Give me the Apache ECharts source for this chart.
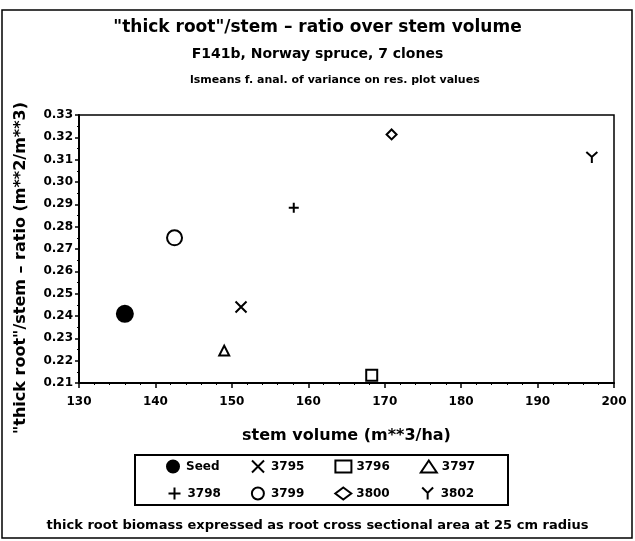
<!DOCTYPE html>
<html>
<head>
<meta charset="utf-8">
<script src="https://cdn.jsdelivr.net/npm/echarts@6/dist/echarts.min.js"></script>
<style>
  html, body { margin: 0; padding: 0; background: #fff; }
  #chart { width: 635px; height: 541px; }
</style>
</head>
<body>
<div id="chart"></div>
<script>
// data
var clones = ['Seed', '3795', '3796', '3797', '3798', '3799', '3800', '3802'];
var stemVolume = [136.0, 151.2, 168.3, 149.0, 158.1, 142.5, 170.9, 197.1];
var rootRatio = [0.241, 0.244, 0.2135, 0.2245, 0.2885, 0.275, 0.3213, 0.311];
var xTicks = [130, 200, 10];
var yTicks = [0.21, 0.33, 0.01];

// marker look for each clone
var markers = {
  'Seed': { symbol: 'circle', size: 16, fill: '#000' },
  '3795': { symbol: 'path://M0,0L10,10M10,0L0,10', size: 11, fill: 'none' },
  '3796': { symbol: 'rect', size: 11, fill: '#fff' },
  '3797': { symbol: 'triangle', size: 10, fill: '#fff' },
  '3798': { symbol: 'path://M5,0L5,10M0,5L10,5', size: 10, fill: 'none' },
  '3799': { symbol: 'circle', size: 15, fill: '#fff' },
  '3800': { symbol: 'diamond', size: 10, fill: '#fff' },
  '3802': { symbol: 'path://M0,0L5,5L10,0M5,5L5,11', size: 11, fill: 'none' }
};

var font = 'DejaVu Sans, Verdana, sans-serif';
function txt(size) {
  return { fontFamily: font, fontSize: size, fontWeight: 'bold', color: '#000' };
}

var chart = echarts.init(document.getElementById('chart'));

var series = clones.map(function (name, i) {
  var m = markers[name];
  return {
    name: name,
    type: 'scatter',
    symbol: m.symbol,
    symbolSize: m.size,
    itemStyle: { color: m.fill, borderColor: '#000', borderWidth: 2, opacity: 1 },
    data: [[stemVolume[i], rootRatio[i]]]
  };
});

// legend in two rows of four, like the original key box
function legendRow(items, top) {
  return {
    data: items,
    orient: 'horizontal',
    left: 166, top: top,
    padding: 0,
    itemGap: 30,
    itemWidth: 16, itemHeight: 12,
    textStyle: txt(12)
  };
}

var option = {
  backgroundColor: '#fff',
  animation: false,
  title: [
    { text: '"thick root"/stem \u2013 ratio over stem volume', left: 'center', top: 14, textStyle: txt(17) },
    { text: 'F141b, Norway spruce, 7 clones', left: 'center', top: 42, textStyle: txt(14) },
    { text: 'lsmeans f. anal. of variance on res. plot values', left: 185, top: 70, textStyle: txt(11) },
    { text: 'thick root biomass expressed as root cross sectional area at 25 cm radius', left: 'center', top: 514, textStyle: txt(13) }
  ],
  grid: {
    left: 79, right: 21, top: 115, bottom: 158,
    show: true, borderColor: '#000', borderWidth: 1.5
  },
  xAxis: {
    type: 'value',
    min: xTicks[0], max: xTicks[1], interval: xTicks[2],
    name: 'stem volume (m**3/ha)',
    nameLocation: 'middle',
    nameGap: 45,
    nameTextStyle: txt(16),
    axisLine: { lineStyle: { color: '#000', width: 2 } },
    axisTick: { show: true, length: 5, lineStyle: { color: '#000', width: 1.5 } },
    minorTick: { show: true, splitNumber: 5, length: 2, lineStyle: { color: '#000' } },
    splitLine: { show: false },
    axisLabel: Object.assign({ margin: 13 }, txt(12))
  },
  yAxis: {
    type: 'value',
    min: yTicks[0], max: yTicks[1], interval: yTicks[2],
    name: '"thick root"/stem \u2013 ratio (m**2/m**3)',
    nameLocation: 'middle',
    nameGap: 50,
    nameTextStyle: Object.assign({ padding: [0, 38, 0, 0] }, txt(16)),
    axisLine: { lineStyle: { color: '#000', width: 2 } },
    axisTick: { show: true, length: 4, lineStyle: { color: '#000', width: 1.5 } },
    minorTick: { show: true, splitNumber: 2, length: 2, lineStyle: { color: '#000' } },
    splitLine: { show: false },
    axisLabel: Object.assign({
      margin: 6,
      formatter: function (v) { return v.toFixed(2); }
    }, txt(12))
  },
  legend: [
    legendRow(clones.slice(0, 4), 458),
    legendRow(clones.slice(4), 485)
  ],
  graphic: [{
    type: 'rect',
    shape: { x: 2, y: 10, width: 630, height: 528 },
    style: { fill: 'none', stroke: '#000', lineWidth: 1.5 },
    silent: true
  }, {
    type: 'rect',
    shape: { x: 135, y: 455, width: 373, height: 50 },
    style: { fill: 'none', stroke: '#000', lineWidth: 2 },
    silent: true
  }],
  series: series
};

chart.setOption(option);
</script>
</body>
</html>
